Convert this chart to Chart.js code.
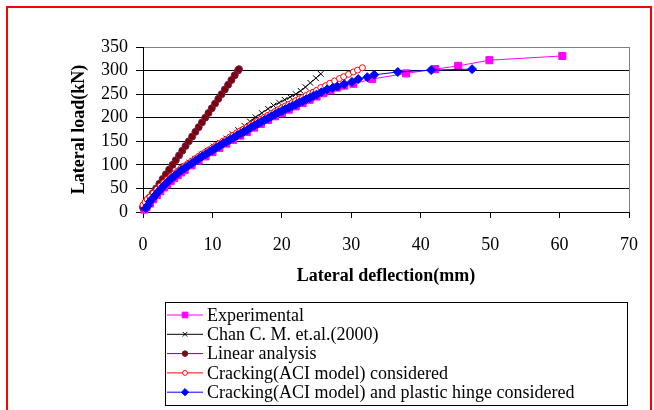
<!DOCTYPE html>
<html>
<head>
<meta charset="utf-8">
<script src="https://cdn.jsdelivr.net/npm/chart.js"></script>
<style>
  html, body { margin: 0; padding: 0; background: #fff; overflow: hidden; }
  #wrap { position: relative; width: 654px; height: 410px; }
  #frame { position: absolute; left: 6px; top: 6px; width: 646px; height: 500px;
           box-sizing: border-box; border: 2px solid #ff0000; pointer-events: none; }
</style>
</head>
<body>
<div id="wrap">
  <canvas id="loadChart" width="654" height="410"></canvas>
  <div id="frame"></div>
</div>
<script>
// Lateral load (kN) vs lateral deflection (mm)
const seriesNames = ["Experimental", "Chan C. M. et.al.(2000)", "Linear analysis",
  "Cracking(ACI model) considered", "Cracking(ACI model) and plastic hinge considered"];

const expDefl = [0.2, 0.5, 1, 1.5, 2, 2.5, 3, 3.5, 4, 4.5, 5, 5.5, 6, 7, 8, 9, 10, 11, 12, 13,
  14, 15, 16, 17, 18, 19, 20, 21, 22, 23, 24, 25, 26, 27, 28, 29, 30.3, 33, 37.9, 42.1, 45.4, 49.9, 60.4];
const expLoad = [5, 10, 18, 27, 36, 44, 52, 59, 66, 72, 78, 84, 89, 99, 109, 118, 127, 136, 145, 153,
  162, 170, 179, 187, 195, 203, 210, 217, 224, 231, 238, 245, 252, 258, 264, 268, 272, 282, 294, 303, 310, 322, 331];

const chanDefl = [0, 0.4, 0.8, 1.3, 1.8, 2.4, 3, 3.7, 4.4, 5.1, 5.9, 6.7, 7.5, 8.4, 9.3, 10.2, 11.1, 12, 12.9, 13.7,
  14.6, 15.4, 16.2, 17.1, 18, 18.8, 19.6, 20.4, 21.2, 22, 22.7, 23.4, 24.1, 24.9, 25.6];
const chanLoad = [10, 18, 26, 35, 44, 53, 62, 71, 80, 88, 97, 105, 113, 122, 130, 139, 147, 156, 165, 174,
  183, 192, 201, 210, 219, 226, 232, 238, 244, 250, 257, 265, 274, 284, 293];

const linDefl = [0, 0.47, 0.94, 1.42, 1.89, 2.36, 2.83, 3.3, 3.77, 4.25, 4.72, 5.19, 5.66, 6.13, 6.6, 7.08,
  7.55, 8.02, 8.49, 8.96, 9.43, 9.91, 10.38, 10.85, 11.32, 11.79, 12.26, 12.74, 13.21, 13.68, 13.82];
const linLoad = [10, 20, 30, 40, 50, 60, 70, 80, 90, 100, 110, 120, 130, 140, 150, 160,
  170, 180, 190, 200, 210, 220, 230, 240, 250, 260, 270, 280, 290, 300, 303];

const crkDefl = [0, 0.3, 0.6, 1, 1.5, 2, 2.5, 3, 3.5, 4, 4.5, 5, 5.5, 6, 6.5, 7, 7.5, 8, 8.5, 9,
  9.5, 10, 10.5, 11, 11.5, 12, 12.5, 13, 13.5, 14, 14.5, 15, 15.5, 16, 16.5, 17, 17.5, 18, 18.5, 19,
  19.5, 20, 20.5, 21, 21.5, 22, 22.5, 23, 23.5, 24, 24.5, 25, 25.6, 26.3, 26.9, 27.6, 28.3, 28.9, 29.6, 30.3, 30.9, 31.6];
const crkLoad = [15, 21, 27, 32, 40, 48, 55, 62, 69, 75, 81, 87, 93, 98, 103, 108, 113, 118, 123, 127,
  132, 136, 141, 145, 150, 154, 159, 163, 168, 172, 176, 180, 185, 189, 193, 197, 201, 205, 209, 213,
  217, 221, 225, 228, 232, 236, 240, 243, 247, 251, 254, 258, 264, 268, 273, 278, 283, 287, 292, 297, 301, 306];

const hngDefl = [0.4, 0.7, 1, 1.4, 1.8, 2.2, 2.6, 3, 3.5, 4, 4.5, 5, 5.5, 6, 6.5, 7, 7.5, 8, 8.5, 9,
  9.5, 10, 10.5, 11, 11.5, 12, 12.5, 13, 13.5, 14, 14.5, 15, 15.5, 16, 16.5, 17, 17.5, 18, 18.5, 19,
  19.5, 20, 20.5, 21, 21.5, 22, 22.5, 23, 23.5, 24, 24.5, 25, 25.7, 26.5, 27.3, 28, 29, 30.1, 31, 32.3,
  33.3, 36.7, 41.5, 47.4];
const hngLoad = [8, 14, 22, 29, 36, 43, 49, 56, 63, 70, 76, 82, 88, 93, 98, 103, 108, 113, 118, 122,
  127, 131, 136, 140, 145, 149, 153, 157, 162, 166, 170, 174, 179, 183, 187, 191, 195, 199, 203, 207,
  211, 214, 218, 221, 225, 228, 232, 235, 239, 242, 246, 249, 254, 260, 263, 266, 271, 276, 282, 286,
  291, 297, 301, 303];

const xTicks = [0, 10, 20, 30, 40, 50, 60, 70];
const yTicks = [0, 50, 100, 150, 200, 250, 300, 350];

const pts = (xs, ys) => xs.map((x, i) => ({ x: x, y: ys[i] }));
const serif = "'Liberation Serif', 'Times New Roman', serif";

// excel-like boxed legend: line sample with marker in the middle
const boxLegend = {
  id: 'boxLegend',
  afterDraw(chart) {
    const ctx = chart.ctx;
    const bx = 165, by = 302, bw = 462, bh = 103;
    ctx.save();
    ctx.strokeStyle = '#000';
    ctx.lineWidth = 1;
    ctx.strokeRect(bx + 0.5, by + 0.5, bw, bh);
    ctx.font = '18px ' + serif;
    ctx.textBaseline = 'middle';
    ctx.textAlign = 'left';
    chart.data.datasets.forEach((ds, i) => {
      const y = 315 + i * 19.3;
      ctx.strokeStyle = ds.borderColor;
      ctx.lineWidth = 1;
      ctx.beginPath();
      ctx.moveTo(167, y);
      ctx.lineTo(203, y);
      ctx.stroke();
      ctx.fillStyle = ds.pointBackgroundColor;
      ctx.strokeStyle = ds.pointBorderColor;
      ctx.lineWidth = ds.pointBorderWidth;
      Chart.helpers.drawPoint(ctx, {
        pointStyle: ds.pointStyle,
        radius: ds.pointRadius * 0.8,
        rotation: 0,
        borderWidth: ds.pointBorderWidth
      }, 185, y);
      ctx.fillStyle = '#000';
      ctx.fillText(ds.label, 207, y + 1);
    });
    ctx.restore();
  }
};

// grey frame on the right side of the plot area
const plotFrame = {
  id: 'plotFrame',
  afterDatasetsDraw(chart) {
    const a = chart.chartArea, ctx = chart.ctx;
    ctx.save();
    ctx.strokeStyle = '#808080';
    ctx.lineWidth = 1;
    ctx.beginPath();
    ctx.moveTo(Math.round(a.right) + 0.5, a.top);
    ctx.lineTo(Math.round(a.right) + 0.5, a.bottom);
    ctx.stroke();
    ctx.restore();
  }
};

function series(label, xs, ys, color, style, radius, fill, border, order) {
  return {
    label: label,
    data: pts(xs, ys),
    borderColor: color,
    borderWidth: 1,
    pointStyle: style,
    pointRadius: radius,
    pointHoverRadius: radius,
    pointBackgroundColor: fill,
    pointBorderColor: border,
    pointBorderWidth: 1,
    tension: 0,
    clip: false,
    order: order
  };
}

new Chart(document.getElementById('loadChart').getContext('2d'), {
  type: 'line',
  data: {
    datasets: [
      series(seriesNames[0], expDefl, expLoad, '#ff00ff', 'rect', 5, '#ff00ff', '#ff00ff', 5),
      series(seriesNames[1], chanDefl, chanLoad, '#000000', 'crossRot', 4, '#000000', '#000000', 4),
      series(seriesNames[2], linDefl, linLoad, '#800080', 'circle', 3.5, '#800000', '#6b1f5f', 3),
      series(seriesNames[3], crkDefl, crkLoad, '#ff0000', 'circle', 3, '#ffffff', '#ff0000', 2),
      series(seriesNames[4], hngDefl, hngLoad, '#0000ff', 'rectRot', 4.5, '#0000ff', '#0000ff', 1)
    ]
  },
  options: {
    responsive: false,
    animation: false,
    layout: { padding: { top: 47, right: 25, bottom: 123, left: 0 } },
    plugins: {
      legend: { display: false },
      tooltip: { enabled: false }
    },
    scales: {
      x: {
        type: 'linear',
        min: 0,
        max: 70,
        afterBuildTicks: s => { s.ticks = xTicks.map(v => ({ value: v })); },
        afterFit: s => { s.height = 75; },
        grid: { display: true, drawOnChartArea: false, drawTicks: true, tickLength: 6, tickColor: '#000' },
        border: { display: true, color: '#000', width: 1 },
        ticks: { color: '#000', font: { family: serif, size: 18 }, padding: 16, maxRotation: 0, autoSkip: false },
        title: { display: true, text: 'Lateral deflection(mm)', color: '#000',
                 font: { family: serif, size: 18, weight: 'bold' }, padding: { top: 0, bottom: 0 } }
      },
      y: {
        min: 0,
        max: 350,
        afterBuildTicks: s => { s.ticks = yTicks.map(v => ({ value: v })); },
        afterFit: s => { s.width = 143; },
        grid: {
          color: c => (c.tick && c.tick.value === 350) ? '#808080' : '#000',
          lineWidth: 1,
          tickLength: 7,
          tickColor: '#000'
        },
        border: { display: true, color: '#000', width: 1 },
        ticks: { color: '#000', font: { family: serif, size: 18 }, padding: 8, autoSkip: false },
        title: { display: true, text: 'Lateral load(kN)', color: '#000',
                 font: { family: serif, size: 18, weight: 'bold' }, padding: { top: 69, bottom: 0 } }
      }
    }
  },
  plugins: [plotFrame, boxLegend]
});
</script>
</body>
</html>
